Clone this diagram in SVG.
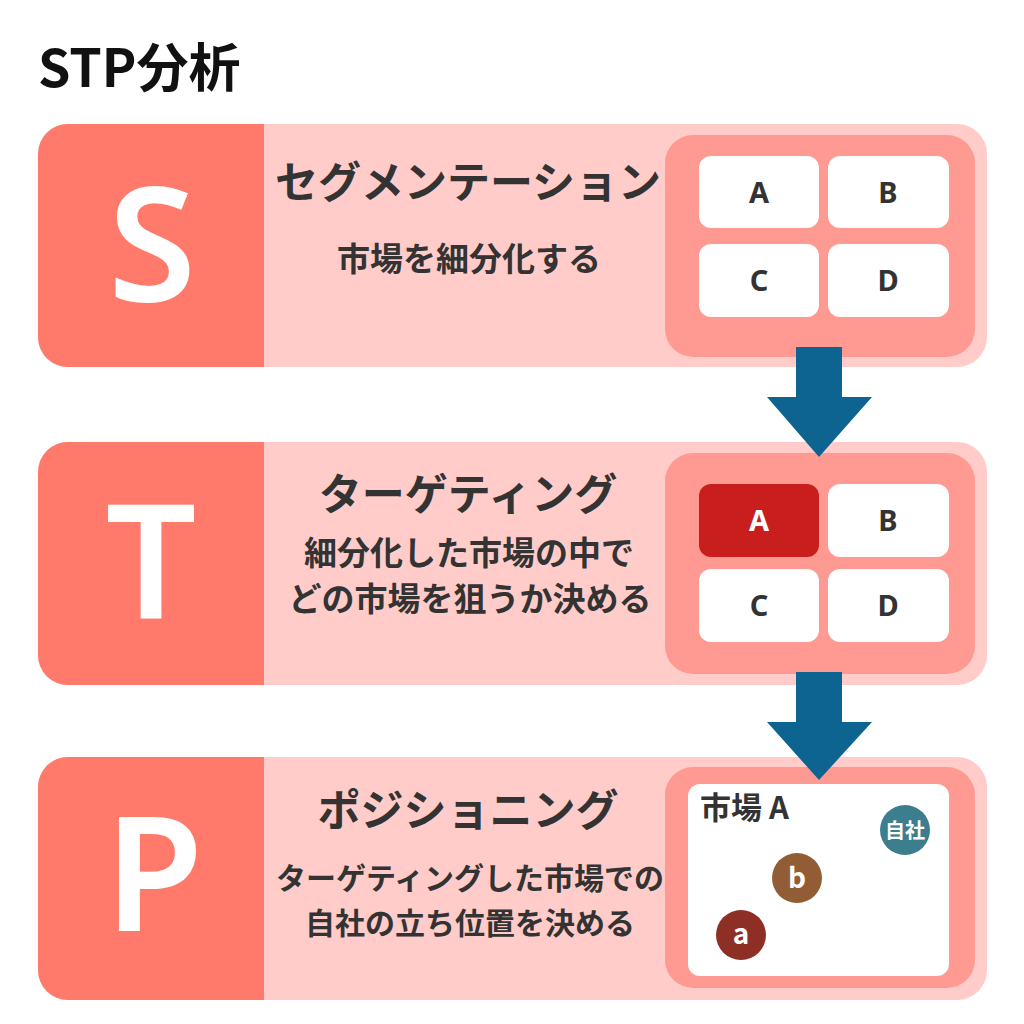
<svg xmlns="http://www.w3.org/2000/svg" width="1024" height="1024" viewBox="0 0 1024 1024">
<style>
text{font-family:"Noto Sans CJK JP","Noto Sans",sans-serif;font-weight:700;}
.card{fill:#FFCCC9;}
.left{fill:#FF7A6B;}
.inner{fill:#FF9A92;}
.cell{fill:#FFFFFF;}
.big{fill:#FFFFFF;font-size:160px;font-weight:600;text-anchor:middle;font-family:"Noto Sans","Noto Sans CJK JP",sans-serif;}
.head{fill:#333333;font-size:43px;text-anchor:middle;}
.sub{fill:#333333;font-size:33px;text-anchor:middle;}
.sub2{fill:#333333;font-size:30px;text-anchor:middle;}
.lbl{fill:#333333;font-size:29px;text-anchor:middle;font-family:"Noto Sans","Noto Sans CJK JP",sans-serif;}
.arrow{fill:#0E6491;}
.dot{fill:#FFFFFF;text-anchor:middle;}
</style>
<rect width="1024" height="1024" fill="#FFFFFF"/>
<text x="38" y="87" font-size="52" fill="#111111">STP分析</text>

<g id="card-s">
<rect class="card" x="38" y="124" width="949" height="243" rx="30"/>
<path class="left" d="M68,124 H264 V367 H68 A30,30 0 0 1 38,337 V154 A30,30 0 0 1 68,124 Z"/>
<text class="big" x="152" y="301">S</text>
<text class="head" x="468" y="198">セグメンテーション</text>
<text class="sub" x="469" y="271">市場を細分化する</text>
<rect class="inner" x="665" y="135" width="310" height="222" rx="28"/>
<rect class="cell" x="699" y="156" width="120" height="72" rx="12"/>
<rect class="cell" x="828" y="156" width="121" height="72" rx="12"/>
<rect class="cell" x="699" y="244" width="120" height="73" rx="12"/>
<rect class="cell" x="828" y="244" width="121" height="73" rx="12"/>
<text class="lbl" x="759" y="203">A</text>
<text class="lbl" x="888" y="203">B</text>
<text class="lbl" x="759" y="291">C</text>
<text class="lbl" x="888" y="291">D</text>
</g>

<g id="card-t">
<rect class="card" x="38" y="442" width="949" height="243" rx="30"/>
<path class="left" d="M68,442 H264 V685 H68 A30,30 0 0 1 38,655 V472 A30,30 0 0 1 68,442 Z"/>
<text class="big" x="151" y="618">T</text>
<text class="head" x="468" y="510">ターゲティング</text>
<text class="sub" x="469" y="565">細分化した市場の中で</text>
<text class="sub" x="470" y="611">どの市場を狙うか決める</text>
<rect class="inner" x="665" y="453" width="310" height="221" rx="28"/>
<rect x="699" y="484" width="120" height="73" rx="12" fill="#C81E1E"/>
<rect class="cell" x="828" y="484" width="121" height="73" rx="12"/>
<rect class="cell" x="699" y="569" width="120" height="73" rx="12"/>
<rect class="cell" x="828" y="569" width="121" height="73" rx="12"/>
<text class="lbl" x="759" y="531" style="fill:#FFFFFF">A</text>
<text class="lbl" x="888" y="531">B</text>
<text class="lbl" x="759" y="616">C</text>
<text class="lbl" x="888" y="616">D</text>
</g>

<g id="card-p">
<rect class="card" x="38" y="757" width="949" height="243" rx="30"/>
<path class="left" d="M68,757 H264 V1000 H68 A30,30 0 0 1 38,970 V787 A30,30 0 0 1 68,757 Z"/>
<text class="big" x="154" y="931">P</text>
<text class="head" x="468" y="826">ポジショニング</text>
<text class="sub2" x="470" y="889">ターゲティングした市場での</text>
<text class="sub2" x="470" y="934">自社の立ち位置を決める</text>
<rect class="inner" x="665" y="767" width="310" height="221" rx="28"/>
<rect class="cell" x="688" y="784" width="261" height="192" rx="12"/>
<text x="700" y="819" font-size="31" fill="#333333">市場 A</text>
<circle cx="905" cy="830" r="25" fill="#3D7E8E"/>
<text class="dot" x="905" y="838" font-size="20">自社</text>
<circle cx="797" cy="878" r="25" fill="#925C35"/>
<text class="dot" x="797" y="888" font-size="28">b</text>
<circle cx="741" cy="935" r="25" fill="#8E2F26"/>
<text class="dot" x="741" y="944" font-size="28">a</text>
</g>

<g id="connectors">
<path class="arrow" d="M796,347 H842 V397 H872 L819,457 L767,397 H796 Z"/>
<path class="arrow" d="M796,672 H842 V722 H872 L819,780 L767,722 H796 Z"/>
</g>
</svg>
